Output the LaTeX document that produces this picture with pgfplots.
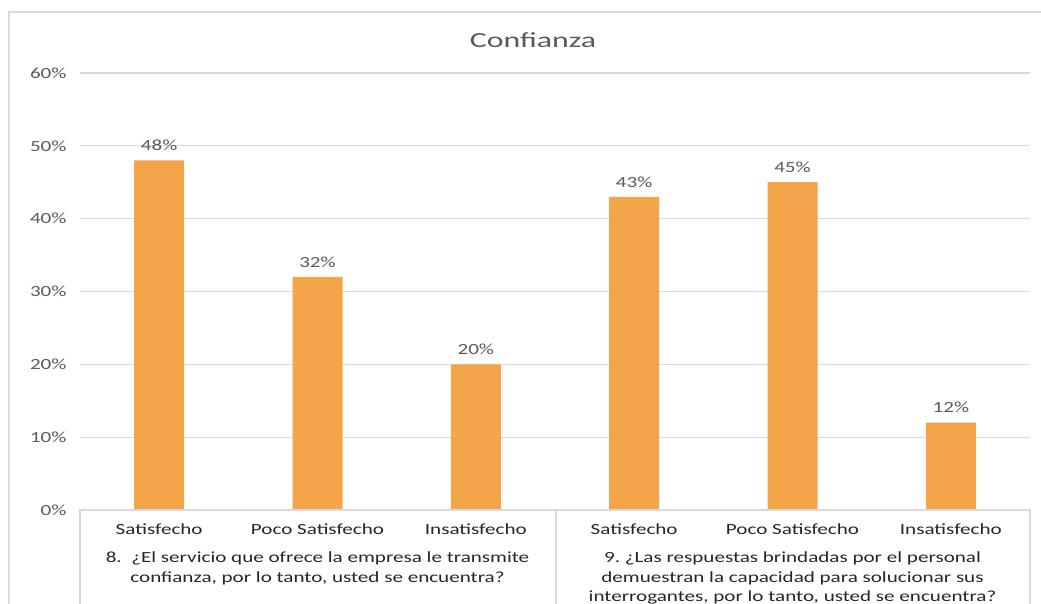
\documentclass[border=0pt]{standalone}
\usepackage{fontspec}
\setmainfont{Carlito}
\newfontfamily\chartfont{Carlito}[FakeStretch=1.36]
\newfontfamily\titlefont{Carlito}[FakeStretch=1.48]
\usepackage{pgfplots}
\pgfplotsset{compat=1.18}
\frenchspacing

\definecolor{barorange}{HTML}{F4A54A}
\definecolor{linegray}{HTML}{D9D9D9}
\definecolor{textgray}{HTML}{595959}
\definecolor{labelblack}{HTML}{262626}

\newcommand{\lbl}{\chartfont\fontsize{15.5bp}{19.8bp}\selectfont}

\begin{document}
\begin{tikzpicture}[x=1bp,y=1bp]
\useasboundingbox (0,0) rectangle (1041,604);
% chart frame (top and left edges)
\draw[linegray, line width=1.5bp] (9,0) -- (9,592) -- (1041,592);
% title
\node[textgray, font=\titlefont\fontsize{21.5bp}{25bp}\selectfont] at (533,564) {Confianza};

\begin{axis}[
  at={(80bp,94bp)}, anchor=south west,
  scale only axis, width=950bp, height=437bp,
  xmin=-0.5, xmax=5.5, ymin=0, ymax=60,
  ybar, bar width=50bp,
  axis line style={draw=none},
  tick style={draw=none},
  ytick={0,10,...,60},
  yticklabel={\pgfmathprintnumber[assume math mode=true]{\tick}\%},
  yticklabel style={font=\lbl, text=textgray, xshift=-10bp},
  xtick=data,
  xticklabels={Satisfecho, Poco Satisfecho, Insatisfecho, Satisfecho, Poco Satisfecho, Insatisfecho},
  xticklabel style={font=\lbl, text=labelblack, yshift=-6bp},
  ymajorgrids, grid style={linegray, line width=1.2bp},
  nodes near coords={\pgfmathprintnumber[assume math mode=true,fixed,precision=0]{\pgfplotspointmeta}\%},
  nodes near coords style={font=\lbl, text=textgray, yshift=6bp},
  clip=false,
]
\addplot[fill=barorange, draw=none] coordinates {(0,48) (1,32) (2,20) (3,43) (4,45) (5,12)};
\node[font=\lbl, text=labelblack, align=center, anchor=north] at (axis cs:1,0)
  [yshift=-38bp] {8.\ \ ¿El servicio que ofrece la empresa le transmite\\confianza, por lo tanto, usted se encuentra?};
\node[font=\lbl, text=labelblack, align=center, anchor=north] at (axis cs:4,0)
  [yshift=-38bp] {9. ¿Las respuestas brindadas por el personal\\demuestran la capacidad para solucionar sus\\interrogantes, por lo tanto, usted se encuentra?};
\end{axis}
% category axis frame
\draw[linegray, line width=1.5bp] (80,0) -- (80,94) -- (1030,94) -- (1030,0);
\draw[linegray, line width=1.5bp] (556,0) -- (556,94);
\end{tikzpicture}
\end{document}
